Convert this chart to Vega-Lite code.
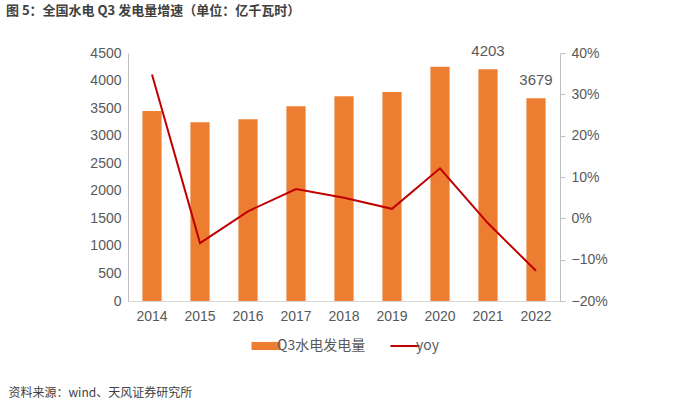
{
  "$schema": "https://vega.github.io/schema/vega-lite/v6.json",
  "width": 432,
  "height": 248,
  "autosize": {"type": "none"},
  "padding": {"left": 128, "top": 53, "right": 140, "bottom": 105},
  "background": "white",
  "config": {
    "view": {"stroke": null},
    "font": "Liberation Sans",
    "axis": {"labelFont": "Liberation Sans", "labelColor": "#595959", "labelFontSize": 14, "grid": false, "domainColor": "#BFBFBF", "tickColor": "#BFBFBF"}
  },
  "title": {
    "text": "图 5：全国水电 Q3 发电量增速（单位：亿千瓦时）",
    "font": "Noto Sans CJK SC",
    "fontSize": 13,
    "fontWeight": "bold",
    "color": "#404040",
    "anchor": "start",
    "frame": "group",
    "dx": -122,
    "offset": 24
  },
  "data": {
    "values": [
      {"year": "2014", "gen": 3448, "yoy": 0.348, "label": ""},
      {"year": "2015", "gen": 3242, "yoy": -0.060, "label": ""},
      {"year": "2016", "gen": 3297, "yoy": 0.017, "label": ""},
      {"year": "2017", "gen": 3532, "yoy": 0.071, "label": ""},
      {"year": "2018", "gen": 3714, "yoy": 0.050, "label": ""},
      {"year": "2019", "gen": 3792, "yoy": 0.023, "label": ""},
      {"year": "2020", "gen": 4252, "yoy": 0.121, "label": ""},
      {"year": "2021", "gen": 4203, "yoy": -0.012, "label": "4203"},
      {"year": "2022", "gen": 3679, "yoy": -0.127, "label": "3679"}
    ]
  },
  "encoding": {
    "x": {
      "field": "year",
      "type": "ordinal",
      "scale": {"paddingInner": 0.6, "paddingOuter": 0.3},
      "axis": {
        "labelAngle": 0,
        "ticks": false,
        "labelPadding": 8,
        "domainColor": "#D9D9D9",
        "title": "资料来源：wind、天风证券研究所",
        "titleFont": "Noto Sans CJK SC",
        "titleFontSize": 12,
        "titleFontWeight": "normal",
        "titleColor": "#404040",
        "titleX": -120,
        "titleY": 91,
        "titleAnchor": "start",
        "titleAlign": "left",
        "titleBaseline": "middle"
      }
    }
  },
  "layer": [
    {
      "encoding": {
        "y": {
          "field": "gen",
          "type": "quantitative",
          "scale": {"domain": [0, 4500]},
          "axis": {"title": null, "format": "d", "values": [0, 500, 1000, 1500, 2000, 2500, 3000, 3500, 4000, 4500], "ticks": false, "labelPadding": 7, "domainColor": "#BFBFBF"}
        }
      },
      "layer": [
        {
          "mark": {"type": "bar"},
          "encoding": {
            "color": {
              "datum": "Q3水电发电量",
              "scale": {"domain": ["Q3水电发电量", "yoy"], "range": ["#ED7D31", "#C00000"]},
              "legend": {
                "title": null,
                "orient": "none",
                "direction": "horizontal",
                "legendX": 131,
                "legendY": 286,
                "labelFont": "Noto Sans CJK SC",
                "labelFontSize": 14,
                "labelColor": "#595959",
                "symbolSize": 841,
                "columnPadding": 20,
                "labelOffset": 4,
                "encode": {
                  "symbols": {
                    "update": {
                      "shape": {"signal": "datum.value === 'yoy' ? 'M-1,0H1' : 'M-1,-0.28H1V0.28H-1Z'"},
                      "fill": {"signal": "datum.value === 'yoy' ? 'transparent' : '#ED7D31'"},
                      "stroke": {"signal": "datum.value === 'yoy' ? '#C00000' : '#ED7D31'"},
                      "strokeWidth": {"signal": "datum.value === 'yoy' ? 2 : 0"}
                    }
                  }
                }
              }
            }
          }
        },
        {
          "mark": {"type": "text", "baseline": "bottom", "dy": -10, "fontSize": 15, "color": "#595959", "font": "Liberation Sans"},
          "encoding": {
            "text": {"field": "label"}
          }
        }
      ]
    },
    {
      "mark": {"type": "line", "strokeWidth": 2},
      "encoding": {
        "x": {"field": "year", "type": "ordinal", "bandPosition": 0.5},
        "y": {
          "field": "yoy",
          "type": "quantitative",
          "scale": {"domain": [-0.2, 0.4]},
          "axis": {"title": null, "orient": "right", "format": ".0%", "values": [-0.2, -0.1, 0, 0.1, 0.2, 0.3, 0.4], "ticks": true, "tickSize": 5, "labelPadding": 6, "domainColor": "#BFBFBF"}
        },
        "color": {"datum": "yoy"}
      }
    }
  ],
  "resolve": {"scale": {"y": "independent"}}
}
